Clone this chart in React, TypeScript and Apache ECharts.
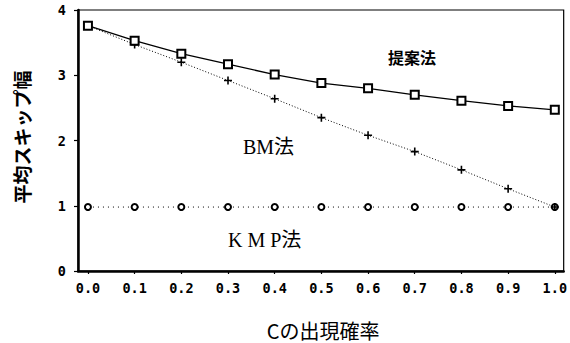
import React, { useEffect, useRef } from "react";
import * as echarts from "echarts";

const xValues = [0.0, 0.1, 0.2, 0.3, 0.4, 0.5, 0.6, 0.7, 0.8, 0.9, 1.0];
const proposed = [3.76, 3.53, 3.33, 3.17, 3.01, 2.88, 2.8, 2.7, 2.61, 2.53, 2.47];
const bm = [3.76, 3.47, 3.2, 2.92, 2.64, 2.35, 2.08, 1.83, 1.55, 1.26, 0.98];
const kmp = [0.98, 0.98, 0.98, 0.98, 0.98, 0.98, 0.98, 0.98, 0.98, 0.98, 0.98];
const xTickLabels = [0.0, 0.1, 0.2, 0.3, 0.4, 0.5, 0.6, 0.7, 0.8, 0.9, 1.0];
const yTicks = [0, 1, 2, 3, 4];

const tickFont = {
  fontFamily: "DejaVu Sans Mono",
  fontWeight: "bold" as const,
  fontSize: 13.5,
  color: "#000",
};

export default function App() {
  const ref = useRef<HTMLDivElement>(null);
  useEffect(() => {
    if (!ref.current) return;
    const chart = echarts.init(ref.current, null, { renderer: "svg" });
    const pts = (ys: number[]) => xValues.map((x, i) => [x, ys[i]]);
    chart.setOption({
      animation: false,
      backgroundColor: "#fff",
      grid: {
        left: 78,
        top: 10,
        width: 488,
        height: 261,
        show: true,
        borderColor: "#000",
        borderWidth: 1.2,
      },
      xAxis: {
        type: "value",
        min: -0.0213,
        max: 1.019,
        axisLine: { show: true, onZero: false, lineStyle: { color: "#000", width: 2.5 } },
        axisTick: {
          show: true,
          length: 3,
          customValues: xTickLabels,
          lineStyle: { color: "#000", width: 1.2 },
        },
        axisLabel: {
          ...tickFont,
          margin: 10,
          customValues: xTickLabels,
          formatter: (v: number) => v.toFixed(1),
        },
        splitLine: { show: false },
      },
      yAxis: {
        type: "value",
        min: 0,
        max: 4,
        interval: 1,
        axisLine: { show: true, onZero: false, lineStyle: { color: "#000", width: 2.5 } },
        axisTick: { show: true, length: 4, lineStyle: { color: "#000", width: 1.2 } },
        axisLabel: {
          ...tickFont,
          margin: 12,
          formatter: (v: number) => (yTicks.includes(v) ? String(v) : ""),
        },
        splitLine: { show: false },
      },
      graphic: [
        {
          type: "text",
          x: 323,
          y: 330,
          style: {
            text: "Cの出現確率",
            fontFamily: "Noto Sans CJK JP",
            fontSize: 20,
            fill: "#000",
            align: "center",
            verticalAlign: "middle",
          },
        },
        {
          type: "text",
          x: 21,
          y: 137,
          rotation: Math.PI / 2,
          style: {
            text: "平均スキップ幅",
            fontFamily: "Noto Sans CJK JP",
            fontWeight: "bold",
            fontSize: 19,
            fill: "#000",
            align: "center",
            verticalAlign: "middle",
          },
        },
        {
          type: "text",
          left: 388,
          top: 49,
          style: {
            text: "提案法",
            fontFamily: "Noto Sans CJK JP",
            fontWeight: "bold",
            fontSize: 16,
            fill: "#000",
          },
        },
        {
          type: "text",
          left: 243,
          top: 137,
          style: {
            text: "BM法",
            fontFamily: "Liberation Serif, Noto Sans CJK JP",
            fontSize: 20,
            fill: "#000",
          },
        },
        {
          type: "text",
          left: 228,
          top: 230,
          style: {
            text: "K M P法",
            fontFamily: "Liberation Serif, Noto Sans CJK JP",
            fontSize: 20,
            fill: "#000",
          },
        },
      ],
      series: [
        {
          name: "KMP法",
          type: "line",
          data: pts(kmp),
          symbol: "emptyCircle",
          symbolSize: 6,
          lineStyle: { color: "#000", width: 1, type: [1, 4] },
          itemStyle: { color: "#000", borderColor: "#000", borderWidth: 1.5 },
          z: 2,
        },
        {
          name: "BM法",
          type: "line",
          data: pts(bm),
          symbol: "path://M4,0H6V4H10V6H6V10H4V6H0V4H4Z",
          symbolSize: 8,
          lineStyle: { color: "#000", width: 1, type: [1, 2] },
          itemStyle: { color: "#000" },
          z: 3,
        },
        {
          name: "提案法",
          type: "line",
          data: pts(proposed),
          symbol: "emptyRect",
          symbolSize: 8,
          lineStyle: { color: "#000", width: 1.3, type: "solid" },
          itemStyle: { color: "#000", borderColor: "#000", borderWidth: 1.5 },
          z: 4,
        },
      ],
    });
    return () => chart.dispose();
  }, []);
  return (
    <div
      ref={ref}
      style={{ position: "fixed", left: 0, top: 0, width: 570, height: 343 }}
    />
  );
}
